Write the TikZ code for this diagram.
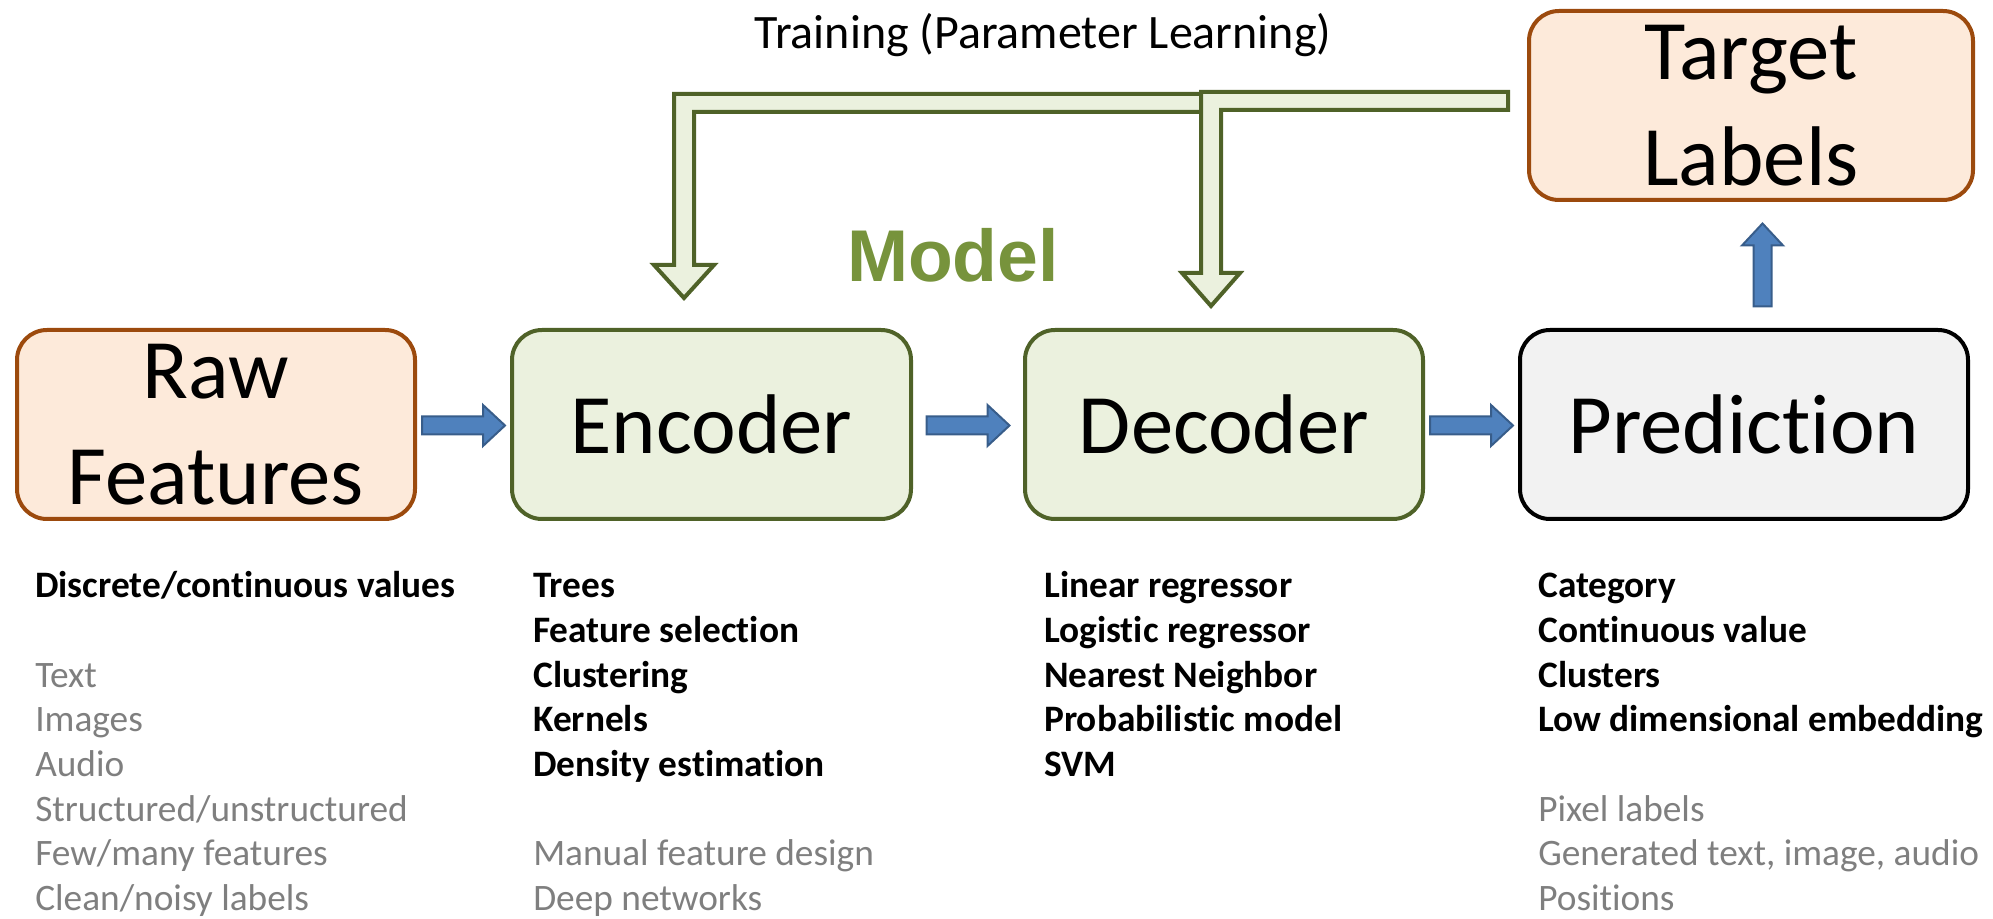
\documentclass[tikz,border=0pt]{standalone}
\usepackage{fontspec}
\setmainfont{Carlito}[Ligatures=NoCommon]
\newfontfamily\modelfont{Liberation Sans}
\usetikzlibrary{calc}
\definecolor{orfill}{HTML}{FDEADA}
\definecolor{ordraw}{HTML}{9C4A0D}
\definecolor{grfill}{HTML}{EBF1DE}
\definecolor{grdraw}{HTML}{4F6228}
\definecolor{prfill}{HTML}{F2F2F2}
\definecolor{modelgreen}{HTML}{77933C}
\definecolor{blfill}{HTML}{4F81BD}
\definecolor{bldraw}{HTML}{385D8A}
\definecolor{txgray}{HTML}{7F7F7F}
\tikzset{
  box/.style={rounded corners=22.5pt, line width=3pt, minimum height=141.75pt,
    align=center, inner sep=0pt, font=\fontsize{63.5}{79}\selectfont},
  orbox/.style={box, draw=ordraw, fill=orfill},
  grbox/.style={box, draw=grdraw, fill=grfill},
  prbox/.style={box, draw=black, fill=prfill},
  blockarrow/.style={fill=blfill, draw=bldraw, line width=1.5pt, line join=miter},
  fbarrow/.style={fill=grfill, draw=grdraw, line width=3pt, line join=miter},
  listtext/.style={anchor=base west, inner sep=0pt, font=\fontsize{28}{34}\selectfont},
  boldline/.style={listtext, font=\fontsize{28}{34}\selectfont\bfseries},
  grayline/.style={listtext, text=txgray},
}
\begin{document}
\begin{tikzpicture}[x=0.75pt,y=-0.75pt]
\useasboundingbox (0,0) rectangle (1993,919);

% main boxes
\node[orbox, minimum width=298.5pt] (raw) at (216,424.5) {Raw\\Features};
\node[grbox, minimum width=299.25pt] (enc) at (711.5,424.5) {Encoder};
\node[grbox, minimum width=298.5pt] (dec) at (1224,424.5) {Decoder};
\node[prbox, minimum width=336pt] (pred) at (1744,424.5) {Prediction};
\node[orbox, minimum width=333pt] (tgt) at (1751,105.5) {Target\\Labels};

% titles
\node[anchor=base, inner sep=0pt, font=\fontsize{36}{43}\selectfont] (train) at (1043,49) {Training (Parameter Learning)};
\node[anchor=base, inner sep=0pt, text=modelgreen, font=\modelfont\bfseries\fontsize{55}{65}\selectfont] (model) at (953,282) {Model};

% horizontal block arrows, centred in the gaps
\foreach \a/\b in {raw/enc, enc/dec, dec/pred}{
  \coordinate (m) at ($(\a.east)!0.5!(\b.west)+(0,1)$);
  \draw[blockarrow] ($(m)+(-41.5,-9)$) -- ($(m)+(19.5,-9)$) -- ($(m)+(19.5,-20.5)$)
    -- ($(m)+(41.5,0)$) -- ($(m)+(19.5,20.5)$) -- ($(m)+(19.5,9)$)
    -- ($(m)+(-41.5,9)$) -- cycle;
}
% vertical block arrow prediction -> target labels
\coordinate (mu) at ($(pred.north)!0.5!(tgt.south)+(15,0)$);
\draw[blockarrow] ($(mu)+(-9,41.5)$) -- ($(mu)+(-9,-19.5)$) -- ($(mu)+(-20.5,-19.5)$)
  -- ($(mu)+(0,-41.5)$) -- ($(mu)+(20.5,-19.5)$) -- ($(mu)+(9,-19.5)$)
  -- ($(mu)+(9,41.5)$) -- cycle;

% feedback arrows (training)
\coordinate (fa) at (684,103);   % corner of arrow to encoder
\coordinate (fb) at (1211,101);  % corner of arrow to decoder
\draw[fbarrow] (1205,94) -- ($(fa)+(-10,-9)$) -- ($(fa)+(-10,162)$) -- ($(fa)+(-30,162)$)
  -- ($(enc.north)+(-27.5,-30)$) -- ($(fa)+(30,162)$) -- ($(fa)+(10,162)$)
  -- ($(fa)+(10,9)$) -- (1205,112) -- cycle;
\draw[fbarrow] ($(tgt.west)+(-19,-13.5)$) -- ($(fb)+(-10,-9)$) -- ($(fb)+(-10,172)$) -- ($(fb)+(-29,172)$)
  -- ($(dec.north)+(-13,-22)$) -- ($(fb)+(29,172)$) -- ($(fb)+(10,172)$)
  -- ($(fb)+(10,9)$) -- ($(tgt.west)+(-19,4.5)$) -- cycle;

% lists
\node[boldline] (r1) at (35,598) {Discrete/continuous values};
\node[grayline] (r3) at (35,687.2) {Text};
\node[grayline] (r4) at (35,731.8) {Images};
\node[grayline] (r5) at (35,776.4) {Audio};
\node[grayline] (r6) at (35,821) {Structured/unstructured};
\node[grayline] (r7) at (35,865.6) {Few/many features};
\node[grayline] (r8) at (35,910.2) {Clean/noisy labels};

\node[boldline] (e1) at (533,598) {Trees};
\node[boldline] (e2) at (533,642.6) {Feature selection};
\node[boldline] (e3) at (533,687.2) {Clustering};
\node[boldline] (e4) at (533,731.8) {Kernels};
\node[boldline] (e5) at (533,776.4) {Density estimation};
\node[grayline] (e7) at (533,865.6) {Manual feature design};
\node[grayline] (e8) at (533,910.2) {Deep networks};

\node[boldline] (d1) at (1044,598) {Linear regressor};
\node[boldline] (d2) at (1044,642.6) {Logistic regressor};
\node[boldline] (d3) at (1044,687.2) {Nearest Neighbor};
\node[boldline] (d4) at (1044,731.8) {Probabilistic model};
\node[boldline] (d5) at (1044,776.4) {SVM};

\node[boldline] (p1) at (1538,598) {Category};
\node[boldline] (p2) at (1538,642.6) {Continuous value};
\node[boldline] (p3) at (1538,687.2) {Clusters};
\node[boldline] (p4) at (1538,731.8) {Low dimensional embedding};
\node[grayline] (p6) at (1538,821) {Pixel labels};
\node[grayline] (p7) at (1538,865.6) {Generated text, image, audio};
\node[grayline] (p8) at (1538,910.2) {Positions};
\end{tikzpicture}
\end{document}
